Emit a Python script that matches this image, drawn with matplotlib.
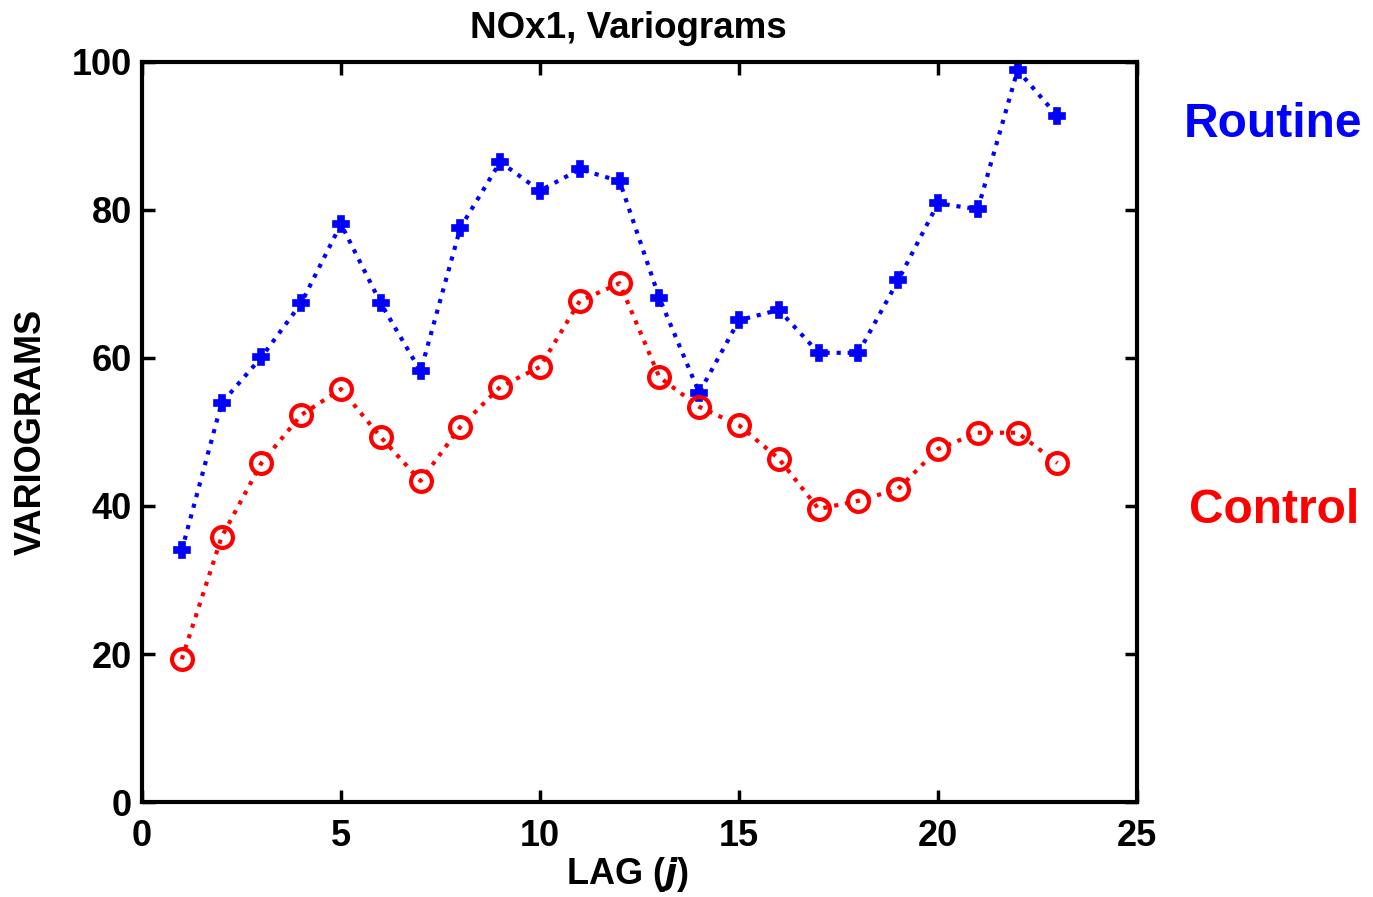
import matplotlib.pyplot as plt
import numpy as np

plt.rcParams['font.family'] = ['Liberation Sans', 'DejaVu Sans']
plt.rcParams['font.weight'] = 'bold'

# lags and variogram values for the two series
lag = np.arange(1, 24)
routine = [34.0, 53.9, 60.1, 67.4, 78.1, 67.4, 58.2, 77.6, 86.5, 82.6, 85.5, 83.9,
           68.1, 55.3, 65.1, 66.5, 60.7, 60.7, 70.5, 80.9, 80.1, 98.9, 92.7]
control = [19.3, 35.8, 45.8, 52.3, 55.8, 49.3, 43.4, 50.7, 56.1, 58.8, 67.7, 70.1,
           57.4, 53.4, 50.9, 46.4, 39.6, 40.7, 42.3, 47.7, 49.9, 49.9, 45.8]

fig = plt.figure(figsize=(13.73, 8.97), dpi=100)
ax = fig.add_axes([0.1034, 0.1059, 0.7247, 0.825])

ax.plot(lag, routine, color='blue', ls=':', lw=3, marker='P', ms=11.5, mew=1.2)
ax.plot(lag, control, color='red', ls=':', lw=3, marker='o', ms=15,
        mfc='none', mew=3)

ax.set_xlim(0, 25)
ax.set_ylim(0, 100)
ax.set_xticks([0, 5, 10, 15, 20, 25])
ax.set_yticks([0, 20, 40, 60, 80, 100])
ax.tick_params(direction='in', length=9, width=2.5, labelsize=26,
               top=True, right=True)
ax.tick_params(axis='x', pad=12)
ax.tick_params(axis='y', pad=7)
for s in ax.spines.values():
    s.set_linewidth(3)

ax.set_title('NOx1, Variograms', fontsize=26.5, fontweight='bold', pad=17, x=0.489)
ax.set_xlabel('LAG ($\\mathbfit{j}$)', fontsize=26, fontweight='bold', labelpad=1, x=0.488)
ax.set_ylabel('VARIOGRAMS', fontsize=26, fontweight='bold', labelpad=17)

fig.text(0.927, 0.861, 'Routine', color='blue', fontsize=34.5, fontweight='bold',
         ha='center', va='center')
fig.text(0.928, 0.431, 'Control', color='red', fontsize=34.5, fontweight='bold',
         ha='center', va='center')

fig.savefig('out.png', dpi=100)
